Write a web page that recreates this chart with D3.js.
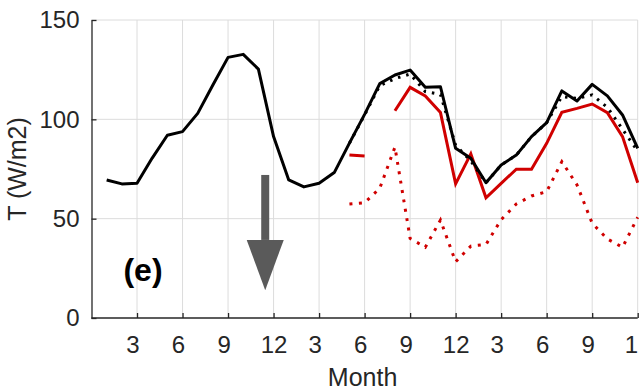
<!DOCTYPE html>
<html>
<head>
<meta charset="utf-8">
<script src="https://cdn.jsdelivr.net/npm/d3@7"></script>
<style>
	body { margin: 0; background: #fff; }
	svg { display: block; font-family: "Liberation Sans", Arial, sans-serif; }
	.grid line { stroke: #dcdcdc; stroke-width: 1; }
	.axis path, .axis line { stroke: #262626; stroke-width: 1.3; }
	.axis text { fill: #262626; font-size: 24px; }
</style>
</head>
<body>
<div id="chart"></div>
<script>
// months run 1..36 (three years), ticks every 3 months
const months = d3.range(1, 37);
const tickMonths = d3.range(3, 37, 3);
const tickLabels = ['3','6','9','12','3','6','9','12','3','6','9','12'];
const yTicks = [0, 50, 100, 150];

const blackSolid = [69.5, 67.5, 67.8, 80.5, 92, 93.8, 103, 117.3, 131.2, 132.7, 125.3, 91.3,
	69.5, 66, 67.8, 73.2, 88, 102.5, 118, 122.3, 124.8, 116.1, 116.4, 85.4,
	80.4, 68.1, 77, 82, 91.3, 98.3, 114.3, 109.2, 117.6, 111.8, 102.2, 85.4];

// these start at month 17
const lateMonths = d3.range(17, 37);
const blackDotted = [88, 102.2, 117, 120.5, 122.8, 114, 112.5, 87, 79, 68.1,
	77, 82, 91.3, 98.3, 111.5, 110.5, 112.3, 106, 95, 84];
const redSolid = [82, 81.5, null, 104.3, 116.1, 111.8, 103.4, 67.5, 82.6, 60.5,
	67.8, 74.9, 74.9, 87.9, 103.5, 105.5, 107.7, 103.4, 91.3, 68.1];
const redDotted = [57.4, 58, 65.3, 86, 40.1, 35.6, 49.3, 28.3, 36.2, 37,
	49.5, 57.4, 61.4, 63.6, 78.7, 67, 47.7, 39.8, 35.6, 50.7];

// arrow annotation (month, top value, head base value, tip value)
const arrow = {month: 11.45, top: 72, base: 39.3, tip: 14};

const width = 639, height = 391;
const svg = d3.select('#chart').append('svg')
	.attr('width', width)
	.attr('height', height);

const x = d3.scaleLinear().domain([0, 36]).range([91.5, 637.7]);
const y = d3.scaleLinear().domain([0, 150]).range([318, 20]);

// grid
const grid = svg.append('g').attr('class', 'grid');
grid.selectAll('.vg').data(tickMonths).enter().append('line')
	.attr('x1', d => x(d)).attr('x2', d => x(d))
	.attr('y1', y(0)).attr('y2', y(150));
grid.selectAll('.hg').data(yTicks.slice(1)).enter().append('line')
	.attr('x1', x(0)).attr('x2', x(36))
	.attr('y1', d => y(d)).attr('y2', d => y(d));

// axes, ticks inward like matlab
svg.append('g')
	.attr('class', 'axis x')
	.attr('transform', `translate(0,${y(0)})`)
	.call(d3.axisBottom(x).tickValues(tickMonths).tickSize(-5).tickPadding(18).tickSizeOuter(0)
		.tickFormat((d, i) => tickLabels[i]));

// single digit labels sit a bit left of their tick in the original
svg.selectAll('.x.axis .tick text')
	.attr('dx', (d, i) => tickLabels[i].length == 1 ? -4.5 : 0);

svg.append('g')
	.attr('class', 'axis y')
	.attr('transform', `translate(${x(0)},0)`)
	.call(d3.axisLeft(y).tickValues(yTicks).tickSize(-5).tickPadding(12).tickSizeOuter(0));

svg.select('.x.axis path').attr('d', `M${x(0)},0H${x(36)}`);

// lines
const line = d3.line()
	.defined(d => d.v != null)
	.x(d => x(d.m))
	.y(d => y(d.v));

const pair = (ms, vs) => ms.map((m, i) => ({m: m, v: vs[i]}));

svg.append('path')
	.datum(pair(lateMonths, redDotted))
	.attr('d', line)
	.attr('fill', 'none')
	.attr('stroke', '#d00000')
	.attr('stroke-width', 3)
	.attr('stroke-dasharray', '3,6.5');

svg.append('path')
	.datum(pair(lateMonths, redSolid))
	.attr('d', line)
	.attr('fill', 'none')
	.attr('stroke', '#d00000')
	.attr('stroke-width', 3);

svg.append('path')
	.datum(pair(lateMonths, blackDotted))
	.attr('d', line)
	.attr('fill', 'none')
	.attr('stroke', '#000')
	.attr('stroke-width', 3)
	.attr('stroke-dasharray', '2.5,6');

svg.append('path')
	.datum(pair(months, blackSolid))
	.attr('d', line)
	.attr('fill', 'none')
	.attr('stroke', '#000')
	.attr('stroke-width', 3)
	.attr('stroke-linejoin', 'round');

// arrow
const ax = x(arrow.month);
svg.append('rect')
	.attr('x', ax - 4).attr('y', y(arrow.top))
	.attr('width', 8).attr('height', y(arrow.base) - y(arrow.top))
	.attr('fill', '#5a5a5a');
svg.append('path')
	.attr('d', `M${ax - 18.5},${y(arrow.base)}L${ax + 18.5},${y(arrow.base)}L${ax},${y(arrow.tip)}Z`)
	.attr('fill', '#5a5a5a');

// labels
svg.append('text')
	.attr('x', 143).attr('y', 281)
	.attr('text-anchor', 'middle')
	.style('font-size', '32px').style('font-weight', 'bold')
	.text('(e)');

svg.append('text')
	.attr('x', (x(0) + x(36)) / 2 - 2).attr('y', 386)
	.attr('text-anchor', 'middle')
	.style('font-size', '25px').attr('fill', '#262626')
	.text('Month');

svg.append('text')
	.attr('transform', `translate(26,${(y(0) + y(150)) / 2}) rotate(-90)`)
	.attr('text-anchor', 'middle')
	.style('font-size', '25px').attr('fill', '#262626')
	.text('T (W/m2)');
</script>
</body>
</html>
